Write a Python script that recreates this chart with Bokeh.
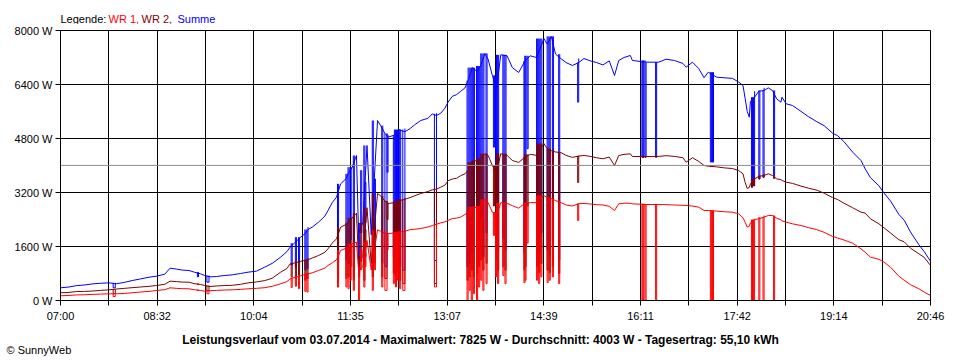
from bokeh.plotting import figure
from bokeh.layouts import column
from bokeh.models import (Range1d, FixedTicker, PrintfTickFormatter, CustomJSTickFormatter,
                          Span, Label)
from bokeh.embed import file_html
from bokeh.resources import INLINE

# ---------------- data (minutes after 07:00, watts) ----------------
t_min = [0, 8, 15, 23, 30, 38, 46, 53, 61, 68, 76, 84, 91, 99, 104, 110, 116, 122, 127, 133,
         137, 142, 148, 156, 163, 171, 178, 186, 194, 201, 209, 215, 218, 222, 228, 232, 235, 239, 245, 251,
         254, 258, 262, 266, 271, 273, 277, 281, 283, 287, 291, 295, 301, 304, 308, 311, 317, 321, 327, 332,
         336, 342, 349, 353, 357, 361, 365, 368, 372, 376, 380, 384, 387, 391, 395, 399, 403, 406, 410, 414,
         418, 424, 429, 435, 441, 446, 452, 459, 462, 466, 470, 475, 480, 486, 492, 497, 503, 509, 515, 521,
         526, 530, 535, 541, 543, 556, 568, 575, 583, 591, 594, 600, 606, 611, 615, 623, 630, 638, 644, 648,
         650, 652, 654, 655, 659, 663, 668, 672, 676, 680, 684, 685, 689, 695, 703, 710, 718, 725, 733, 738,
         744, 752, 760, 764, 769, 777, 782, 788, 796, 801, 807, 815, 820, 826]
wr1 = [140, 150, 165, 170, 180, 190, 198, 200, 210, 230, 250, 270, 296, 320, 376, 360, 350, 346, 320, 296,
       276, 290, 300, 310, 316, 330, 346, 360, 380, 420, 494, 560, 642, 680, 730, 770, 790, 820, 889, 960,
       1037, 1120, 1205, 1481, 1550, 1600, 1680, 1728, 900, 1000, 1780, 900, 2094, 2050, 2000, 1985, 2000, 2030, 2050, 2100,
       2110, 2133, 2180, 2222, 2260, 2300, 2330, 2370, 2430, 2440, 2470, 2550, 2617, 2780, 2750, 2800, 3000, 2900, 2620, 2500,
       2900, 2880, 2810, 2735, 2880, 2900, 2900, 3111, 3050, 3020, 2960, 2904, 2830, 2800, 2870, 2874, 2860, 2840, 2830, 2790,
       2667, 2864, 2884, 2880, 2864, 2844, 2844, 2840, 2830, 2820, 2815, 2800, 2765, 2667, 2667, 2650, 2630, 2617, 2568, 2450,
       2321, 2173, 2200, 2300, 2400, 2420, 2470, 2519, 2519, 2440, 2390, 2360, 2321, 2272, 2222, 2160, 2100, 2020, 1900, 1850,
       1790, 1700, 1531, 1430, 1284, 1220, 1136, 988, 720, 600, 470, 346, 250, 148]
wr2 = [230, 240, 265, 270, 280, 300, 316, 340, 360, 380, 400, 420, 444, 480, 573, 560, 545, 543, 500, 474,
       444, 415, 430, 444, 450, 480, 523, 550, 590, 660, 839, 950, 1086, 1110, 1160, 1190, 1205, 1260, 1333, 1430,
       1531, 1700, 1827, 2173, 2250, 2300, 2450, 2587, 1150, 1300, 2750, 1100, 3170, 3100, 2950, 2874, 2900, 2950, 3000, 3050,
       3100, 3170, 3230, 3279, 3300, 3357, 3420, 3550, 3600, 3620, 3700, 3753, 3852, 4100, 4150, 4200, 4350, 4300, 4000, 3800,
       4350, 4300, 4150, 4090, 4250, 4330, 4300, 4650, 4500, 4444, 4400, 4385, 4300, 4240, 4280, 4296, 4270, 4230, 4200, 4250,
       4000, 4296, 4330, 4346, 4267, 4267, 4270, 4290, 4270, 4230, 4098, 4230, 4120, 4000, 3980, 3960, 3930, 3911, 3850, 3753,
       3500, 3319, 3350, 3450, 3600, 3680, 3704, 3753, 3704, 3605, 3580, 3556, 3506, 3470, 3390, 3330, 3270, 3180, 3050, 2990,
       2880, 2750, 2617, 2590, 2420, 2272, 2150, 2000, 1800, 1740, 1550, 1383, 1280, 1037]
summe = [376, 400, 440, 460, 490, 510, 524, 494, 540, 590, 640, 690, 720, 780, 958, 930, 900, 889, 840, 790,
         740, 700, 710, 741, 760, 800, 839, 869, 990, 1100, 1284, 1450, 1580, 1699, 1876, 1975, 2104, 2173, 2321, 2500,
         2667, 2900, 3061, 3457, 3605, 3753, 3950, 4296, 2000, 2300, 4593, 1950, 5333, 5180, 4950, 4840, 4900, 5066, 5000, 5096,
         5200, 5333, 5400, 5530, 5480, 5550, 5700, 5880, 6050, 6100, 6200, 6300, 6518, 6900, 6800, 6950, 7320, 7150, 6670, 6300,
         7280, 7250, 6900, 6756, 7100, 7250, 7200, 7760, 7600, 7825, 7300, 7170, 7050, 6963, 7050, 7170, 7100, 7050, 6980, 7100,
         6667, 7111, 7200, 7260, 7111, 7062, 7062, 7150, 7111, 7022, 6913, 7062, 6870, 6600, 6765, 6617, 6600, 6580, 6470, 6370,
         5990, 5600, 5432, 5900, 6024, 6200, 6222, 6300, 6222, 5975, 5876, 6024, 5827, 5778, 5605, 5450, 5300, 5180, 4960, 4880,
         4700, 4400, 4148, 3900, 3640, 3400, 3180, 2950, 2550, 2380, 2030, 1650, 1450, 1165]

# short drops / spikes (start minute, length in minutes, WR 1, WR 2, Summe)
drop_t = [50, 130, 139, 219, 223, 226, 232, 234, 263, 271, 273, 275, 278, 283, 285, 288, 289, 296, 298, 305,
          308, 310, 316, 318, 320, 322, 325, 355, 386, 388, 390, 392, 395, 397, 399, 401, 404, 411, 413, 415,
          420, 422, 440, 441, 443, 452, 454, 456, 462, 464, 467, 473, 491, 552, 553, 555, 565, 617, 619, 656,
          658, 663, 667, 677]
drop_len = [2, 1, 2, 1, 1, 1, 1, 1, 1, 1, 1, 1, 1, 1, 1, 1, 1, 1, 1, 1,
            2, 1, 1, 1, 1, 1, 2, 2, 1, 1, 1, 1, 1, 1, 1, 1, 1, 1, 1, 1,
            1, 1, 1, 1, 1, 1, 1, 1, 1, 1, 1, 1, 1, 1, 1, 1, 1, 1, 1, 1,
            1, 1, 1, 1]
drop_wr1 = [118, 300, 200, 385, 420, 350, 270, 250, 395, 400, 350, 600, 300, 0, 1500, 400, 1400, 300, 1500, 400,
            300, 1500, 500, 400, 600, 350, 300, 400, 0, 300, 0, 200, 0, 400, 600, 300, 500, 1926, 700, 500,
            740, 500, 530, 600, 1700, 600, 500, 700, 530, 600, 700, 500, 2370, 0, 0, 0, 0, 0, 0, 0,
            0, 0, 0, 0]
drop_wr2 = [207, 480, 296, 700, 650, 740, 600, 650, 593, 650, 700, 1000, 600, 700, 2300, 600, 2100, 700, 2200, 700,
            650, 2400, 800, 700, 900, 600, 500, 504, 600, 700, 900, 700, 800, 1000, 1200, 900, 1100, 2800, 1200, 900,
            1000, 900, 900, 1000, 2800, 1000, 830, 1100, 900, 830, 1000, 800, 3496, 4246, 4246, 4246, 4246, 4000, 4000, 3357,
            3400, 3600, 3650, 3704]
drop_summe = [376, 700, 543, 1050, 1000, 1100, 900, 950, 1126, 1200, 1100, 1800, 1000, 800, 3850, 1100, 3500, 1000, 3600, 1100,
              1000, 3800, 1300, 1200, 1500, 1000, 900, 1185, 1000, 1100, 1400, 1000, 1200, 1500, 2430, 1300, 2000, 4543, 2222, 1500,
              1837, 1500, 1420, 1600, 4500, 1800, 1400, 2000, 1500, 1300, 1800, 1200, 5876, 4246, 4246, 4246, 4246, 4100, 4100, 3357,
              3400, 3600, 3650, 3704]

average_w = 4003
x_tick_labels = ["07:00", "08:32", "10:04", "11:35", "13:07", "14:39", "16:11", "17:42", "19:14", "20:46"]
y_ticks = [0, 1600, 3200, 4800, 6400, 8000]
legend_parts = ["Legende:", "WR 1,", "WR 2,", "Summe"]
title_text = ("Leistungsverlauf vom 03.07.2014 - Maximalwert: 7825 W - Durchschnitt: 4003 W"
              " - Tagesertrag: 55,10 kWh")
copyright_text = "\u00a9 SunnyWeb"

# ---------------- short drops as small vertical polylines on the curve ----------------
def active_base(t):
    idx = 0
    for i, bt in enumerate(t_min):
        if bt <= t:
            idx = i
    return idx

def anchor(series, t, v):
    j = active_base(t)
    a = series[j]
    b = series[j + 1] if j + 1 < len(series) else a
    if v <= min(a, b):
        return max(a, b)
    if v >= max(a, b):
        return min(a, b)
    return a

def drop_paths(series, drop_vals):
    xs_all, ys_all = [], []
    for t, d, v in zip(drop_t, drop_len, drop_vals):
        xs_all.append([t, t, t + d, t + d])
        ys_all.append([anchor(series, t, v), v, v, anchor(series, t + d, v)])
    return xs_all, ys_all

# ---------------- figure ----------------
total = t_min[-1]
step = total / 18.0
FONT = "Liberation Sans"
W = 952

fig = figure(width=W, height=300, output_backend="svg", toolbar_location=None,
             x_range=Range1d(0, total), y_range=Range1d(0, 8000),
             min_border_left=60, min_border_right=22, min_border_top=6, min_border_bottom=24)
fig.background_fill_color = "white"
fig.border_fill_color = "white"
fig.outline_line_color = "black"
fig.outline_line_alpha = 1.0

fig.xaxis.ticker = FixedTicker(ticks=[k * step for k in range(19)])
fig.xaxis.formatter = CustomJSTickFormatter(args=dict(labels=x_tick_labels, step=step), code="""
const i = Math.round(tick / step);
return (i % 2 === 0) ? labels[i / 2] : "";
""")
fig.yaxis.ticker = FixedTicker(ticks=y_ticks)
fig.yaxis.formatter = PrintfTickFormatter(format="%d W")
for ax in (fig.xaxis[0], fig.yaxis[0]):
    ax.major_tick_out = 5
    ax.major_tick_in = 0
    ax.minor_tick_out = 0
    ax.minor_tick_in = 0
    ax.major_tick_line_color = "black"
    ax.axis_line_color = "black"
    ax.major_label_text_color = "black"
    ax.major_label_text_font = FONT
    ax.major_label_text_font_size = "11px"
fig.xaxis.major_label_standoff = 4
fig.yaxis.major_label_standoff = 3

fig.xgrid.grid_line_color = "black"
fig.ygrid.grid_line_color = "black"
fig.xgrid.grid_line_alpha = 1.0
fig.ygrid.grid_line_alpha = 1.0

fig.add_layout(Span(location=average_w, dimension="width", line_color="#8c8c8c", line_width=1))

for series, drops, col in ((summe, drop_summe, "#0000ff"),
                           (wr2, drop_wr2, "#800000"),
                           (wr1, drop_wr1, "#ff0000")):
    fig.line(t_min, series, line_color=col, line_width=1)
    dx, dy = drop_paths(series, drops)
    fig.multi_line(dx, dy, line_color=col, line_width=1)

# ---------------- text strips above and below ----------------
def strip(h):
    f = figure(width=W, height=h, output_backend="svg", toolbar_location=None,
               x_range=Range1d(0, W), y_range=Range1d(0, h),
               x_axis_location=None, y_axis_location=None, title_location=None,
               min_border=0, min_border_left=0, min_border_right=0,
               min_border_top=0, min_border_bottom=0)
    f.frame_align = False
    f.grid.visible = False
    f.outline_line_color = None
    f.background_fill_color = "white"
    f.border_fill_color = "white"
    return f

header = strip(24)
legend_colors = ["black", "#ff0000", "#800000", "#0000ff"]
legend_x = [60, 108, 141, 177]
for txt, col, lx in zip(legend_parts, legend_colors, legend_x):
    header.add_layout(Label(x=lx, y=6, x_units="screen", y_units="screen", text=txt,
                            text_color=col, text_font=FONT, text_font_size="11px",
                            text_baseline="alphabetic"))

footer = strip(34)
footer.add_layout(Label(x=480, y=19, x_units="screen", y_units="screen", text=title_text,
                        text_color="black", text_font=FONT, text_font_size="12px",
                        text_font_style="bold", text_align="center", text_baseline="alphabetic"))
footer.add_layout(Label(x=6, y=9, x_units="screen", y_units="screen", text=copyright_text,
                        text_color="black", text_font=FONT, text_font_size="11px",
                        text_baseline="alphabetic"))

p = column(header, fig, footer, spacing=0)
open("out.html", "w").write(file_html(p, INLINE))
